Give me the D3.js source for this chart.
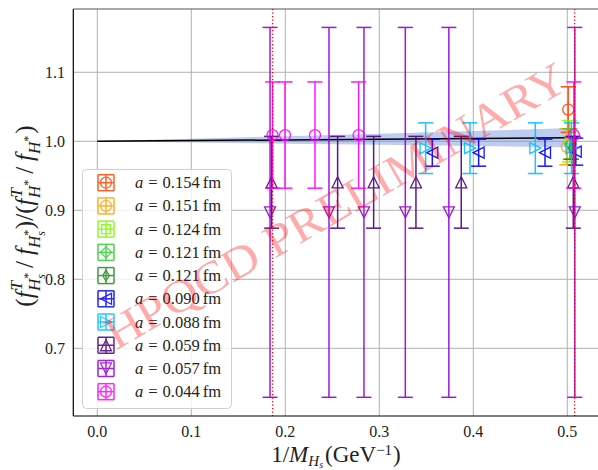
<!DOCTYPE html>
<html><head><meta charset="utf-8">
<script src="https://cdn.jsdelivr.net/npm/d3@7"></script>
<style>body{margin:0;background:#fff}svg{display:block}</style>
</head><body>
<script>
// ---------- data ----------
const xTicks = [0.0, 0.1, 0.2, 0.3, 0.4, 0.5];
const xTickLabels = ["0.0", "0.1", "0.2", "0.3", "0.4", "0.5"];
const yTicks = [0.7, 0.8, 0.9, 1.0, 1.1];
const yTickLabels = ["0.7", "0.8", "0.9", "1.0", "1.1"];

const seriesLabels  = ["0.154", "0.151", "0.124", "0.121", "0.121", "0.090", "0.088", "0.059", "0.057", "0.044"];
const seriesColors  = ["#ff4500", "#ffa500", "#7cfc00", "#32cd32", "#228b22", "#0000ff", "#00bfff", "#4b0082", "#9400d3", "#ff00ff"];
const seriesMarkers = ["o", "o", "s", "D", "d", "<", ">", "^", "v", "o"];

const x0154 = [0.501],  y0154 = [1.046], e0154 = [0.033];
const x0151 = [0.4995], y0151 = [0.992], e0151 = [0.026];
const x0124 = [0.5025], y0124 = [1.000], e0124 = [0.030];
const x0121a = [0.503], y0121a = [0.996], e0121a = [0.022];
const x0121b = [0.5045], y0121b = [0.990], e0121b = [0.016];
const x0090 = [0.3564, 0.4057, 0.4763, 0.509], y0090 = [0.9835, 0.9835, 0.9835, 0.985], e0090 = [0.0196, 0.0196, 0.0196, 0.0196];
const x0088 = [0.3493, 0.3965, 0.466, 0.5045], y0088 = [0.990, 0.990, 0.990, 0.990], e0088 = [0.0367, 0.0367, 0.0367, 0.0367];
const x0059 = [0.1855, 0.2557, 0.294, 0.339, 0.3872, 0.5064], y0059 = [0.9406, 0.9406, 0.9406, 0.9406, 0.9406, 0.9406], e0059 = [0.0665, 0.0665, 0.0665, 0.0665, 0.0665, 0.0665];
const x0057 = [0.1838, 0.2465, 0.2837, 0.3277, 0.374, 0.508], y0057 = [0.897, 0.897, 0.897, 0.897, 0.897, 0.897], e0057 = [0.268, 0.268, 0.268, 0.268, 0.268, 0.268];
const x0044 = [0.1864, 0.1997, 0.2316, 0.278, 0.507], y0044 = [1.009, 1.009, 1.009, 1.009, 1.009], e0044 = [0.077, 0.077, 0.077, 0.077, 0.077];

const fitX  = [0.0, 0.1, 0.2, 0.3, 0.4, 0.5];
const fitY  = [1.000, 1.001, 1.002, 1.003, 1.004, 1.005];
const fitLo = [1.000, 0.9983, 0.9966, 0.9949, 0.9932, 0.9915];
const fitHi = [1.000, 1.0037, 1.0074, 1.0111, 1.0148, 1.0190];

const vlineX = [0.1866, 0.5078];

const seriesX = [x0154, x0151, x0124, x0121a, x0121b, x0090, x0088, x0059, x0057, x0044];
const seriesY = [y0154, y0151, y0124, y0121a, y0121b, y0090, y0088, y0059, y0057, y0044];
const seriesE = [e0154, e0151, e0124, e0121a, e0121b, e0090, e0088, e0059, e0057, e0044];

// ---------- layout ----------
const W = 598, H = 470;
const L = 73.3, R = 600, T = 9, B = 416;
const x = d3.scaleLinear().domain([-0.0255, 0.5348]).range([L, R]);
const y = d3.scaleLinear().domain([0.6019, 1.1917]).range([B, T]);

const svg = d3.select("body").append("svg").attr("width", W).attr("height", H);
const serif = "'Liberation Serif','DejaVu Serif',serif";

svg.append("defs").append("clipPath").attr("id", "clip")
  .append("rect").attr("x", L).attr("y", T).attr("width", R - L).attr("height", B - T);

// grid
const grid = svg.append("g");
grid.selectAll(".gx").data(xTicks).enter().append("line")
  .attr("x1", d => x(d)).attr("x2", d => x(d)).attr("y1", T).attr("y2", B)
  .attr("stroke", "#b0b0b0").attr("stroke-width", 1);
grid.selectAll(".gy").data(yTicks).enter().append("line")
  .attr("x1", L).attr("x2", R).attr("y1", d => y(d)).attr("y2", d => y(d))
  .attr("stroke", "#b0b0b0").attr("stroke-width", 1);

const plot = svg.append("g").attr("clip-path", "url(#clip)");

// fit band + line
const fitData = fitX.map((v, i) => ({x: v, y: fitY[i], lo: fitLo[i], hi: fitHi[i]}));
plot.append("path").datum(fitData)
  .attr("d", d3.area().x(d => x(d.x)).y0(d => y(d.lo)).y1(d => y(d.hi)))
  .attr("fill", "#6f8fe0").attr("fill-opacity", 0.45);
plot.append("path").datum(fitData)
  .attr("d", d3.line().x(d => x(d.x)).y(d => y(d.y)))
  .attr("fill", "none").attr("stroke", "#000").attr("stroke-width", 1.5);

// marker paths
function markerPath(type, s) {
  const h = s / 2;
  switch (type) {
    case "o": return `M${h},0A${h},${h},0,1,1,${-h},0A${h},${h},0,1,1,${h},0Z`;
    case "s": { const a = h * 0.8; return `M${-a},${-a}H${a}V${a}H${-a}Z`; }
    case "D": { const a = h * 1.0; return `M0,${-a}L${a},0L0,${a}L${-a},0Z`; }
    case "d": { const a = h * 1.0, b = h * 0.6; return `M0,${-a}L${b},0L0,${a}L${-b},0Z`; }
    case "^": return `M0,${-h}L${h},${h}L${-h},${h}Z`;
    case "v": return `M0,${h}L${h},${-h}L${-h},${-h}Z`;
    case "<": return `M${-h},0L${h},${-h}L${h},${h}Z`;
    case ">": return `M${h},0L${-h},${-h}L${-h},${h}Z`;
  }
}

const cap = 7.5, msize = 11;
seriesX.forEach((xs, si) => {
  const col = seriesColors[si];
  const g = plot.append("g").attr("opacity", 0.9);
  const pts = xs.map((v, i) => ({x: v, y: seriesY[si][i], e: seriesE[si][i]}));
  g.selectAll(".eb").data(pts).enter().append("line")
    .attr("x1", d => x(d.x)).attr("x2", d => x(d.x))
    .attr("y1", d => y(d.y - d.e)).attr("y2", d => y(d.y + d.e))
    .attr("stroke", col).attr("stroke-width", 1.5);
  g.selectAll(".ct").data(pts).enter().append("line")
    .attr("x1", d => x(d.x) - cap).attr("x2", d => x(d.x) + cap)
    .attr("y1", d => y(d.y + d.e)).attr("y2", d => y(d.y + d.e))
    .attr("stroke", col).attr("stroke-width", 1.5);
  g.selectAll(".cb").data(pts).enter().append("line")
    .attr("x1", d => x(d.x) - cap).attr("x2", d => x(d.x) + cap)
    .attr("y1", d => y(d.y - d.e)).attr("y2", d => y(d.y - d.e))
    .attr("stroke", col).attr("stroke-width", 1.5);
  g.selectAll(".mk").data(pts).enter().append("path")
    .attr("d", markerPath(seriesMarkers[si], msize))
    .attr("transform", d => `translate(${x(d.x)},${y(d.y)})`)
    .attr("fill", "none").attr("stroke", col).attr("stroke-width", 1.3);
});

// red dotted lines
plot.selectAll(".vl").data(vlineX).enter().append("line")
  .attr("x1", d => x(d)).attr("x2", d => x(d)).attr("y1", T).attr("y2", B)
  .attr("stroke", "red").attr("stroke-width", 1.3).attr("stroke-dasharray", "1.3,2.2");

// spines
svg.append("line").attr("x1", L).attr("x2", L).attr("y1", T).attr("y2", B).attr("stroke", "#000").attr("stroke-width", 1.2);
svg.append("line").attr("x1", L).attr("x2", R).attr("y1", B).attr("y2", B).attr("stroke", "#000").attr("stroke-width", 1.2);
svg.append("line").attr("x1", L).attr("x2", R).attr("y1", T).attr("y2", T).attr("stroke", "#555").attr("stroke-width", 1.2);

// tick labels
svg.selectAll(".xt").data(xTicks).enter().append("text")
  .attr("x", d => x(d)).attr("y", 437).attr("text-anchor", "middle")
  .attr("font-family", serif).attr("font-size", 16).attr("fill", "#222")
  .text((d, i) => xTickLabels[i]);
svg.selectAll(".yt").data(yTicks).enter().append("text")
  .attr("x", 65).attr("y", d => y(d) + 5.5).attr("text-anchor", "end")
  .attr("font-family", serif).attr("font-size", 16).attr("fill", "#222")
  .text((d, i) => yTickLabels[i]);

// math-ish text helper
function mathText(sel, parts, base) {
  let prev = 0;
  parts.forEach(p => {
    const sh = p.sh || 0;
    sel.append("tspan")
      .attr("dy", prev - sh)
      .attr("dx", p.dx || 0)
      .attr("font-size", p.sz || base)
      .attr("font-style", p.it ? "italic" : "normal")
      .text(p.t);
    prev = sh;
  });
}

// x label
const xl = svg.append("text").attr("x", 336).attr("y", 462).attr("text-anchor", "middle")
  .attr("font-family", serif).attr("fill", "#222");
mathText(xl, [
  {t: "1/"}, {t: "M", it: true},
  {t: "H", it: true, sz: 15, sh: -3.5}, {t: "s", it: true, sz: 10, sh: -5.5},
  {t: "(GeV", sh: 0, dx: 2}, {t: "\u22121", sz: 15, sh: 7}, {t: ")", sh: 0, dx: 1}
], 23);

// y label
const yl = svg.append("text").attr("transform", "translate(33,216) rotate(-90)")
  .attr("text-anchor", "middle").attr("font-family", serif).attr("fill", "#222");
mathText(yl, [
  {t: "("}, {t: "f", it: true},
  {t: "T", it: true, sz: 17, sh: 11, dx: 1},
  {t: "H", it: true, sz: 17, sh: -7, dx: -10},
  {t: "*", sz: 12, sh: 1},
  {t: "s", it: true, sz: 12, sh: -12, dx: -6},
  {t: "/", sh: 0, dx: 6},
  {t: "f", it: true, dx: 6},
  {t: "H", it: true, sz: 17, sh: -7},
  {t: "*", sz: 12, sh: 1},
  {t: "s", it: true, sz: 12, sh: -12, dx: -6},
  {t: ")/(", sh: 0, dx: 2},
  {t: "f", it: true},
  {t: "T", it: true, sz: 17, sh: 11, dx: 1},
  {t: "H", it: true, sz: 17, sh: -7, dx: -10},
  {t: "*", sz: 12, sh: 1},
  {t: "/", sh: 0, dx: 6},
  {t: "f", it: true, dx: 6},
  {t: "H", it: true, sz: 17, sh: -7},
  {t: "*", sz: 12, sh: 1},
  {t: ")", sh: 0, dx: 2}
], 25);

// legend
const lg = svg.append("g");
lg.append("rect").attr("x", 82.5).attr("y", 169.5).attr("width", 149).attr("height", 239)
  .attr("rx", 4).attr("fill", "#fff").attr("fill-opacity", 0.8)
  .attr("stroke", "#d0d0d0").attr("stroke-width", 1);
const rowY = i => 182.7 + i * 23.22;
seriesLabels.forEach((lab, i) => {
  const col = seriesColors[i];
  const cx = 106, cy = rowY(i), a = 8;
  const g = lg.append("g").attr("opacity", 0.85);
  const segs = [[cx - a, cy, cx + a, cy], [cx, cy - a, cx, cy + a],
                [cx - a, cy - a, cx + a, cy - a], [cx - a, cy + a, cx + a, cy + a],
                [cx - a, cy - a, cx - a, cy + a], [cx + a, cy - a, cx + a, cy + a]];
  segs.forEach(s => g.append("line").attr("x1", s[0]).attr("y1", s[1]).attr("x2", s[2]).attr("y2", s[3])
    .attr("stroke", col).attr("stroke-width", 1.5));
  g.append("path").attr("d", markerPath(seriesMarkers[i], msize))
    .attr("transform", `translate(${cx},${cy})`)
    .attr("fill", "none").attr("stroke", col).attr("stroke-width", 1.3);
  const t = lg.append("text").attr("x", 135).attr("y", cy + 5.5)
    .attr("font-family", serif).attr("font-size", 16.5).attr("fill", "#222");
  t.append("tspan").attr("font-style", "italic").text("a");
  t.append("tspan").attr("dx", 5).text("=");
  t.append("tspan").attr("dx", 5).text(lab);
  t.append("tspan").attr("dx", 3).text("fm");
});

// watermark
svg.append("text")
  .attr("transform", "translate(338,210) rotate(-30)")
  .attr("text-anchor", "middle").attr("dominant-baseline", "middle")
  .attr("font-family", serif).attr("font-size", 46)
  .attr("fill", "red").attr("fill-opacity", 0.33)
  .attr("textLength", 525).attr("lengthAdjust", "spacingAndGlyphs")
  .text("HPQCD PRELIMINARY");
</script>
</body></html>
